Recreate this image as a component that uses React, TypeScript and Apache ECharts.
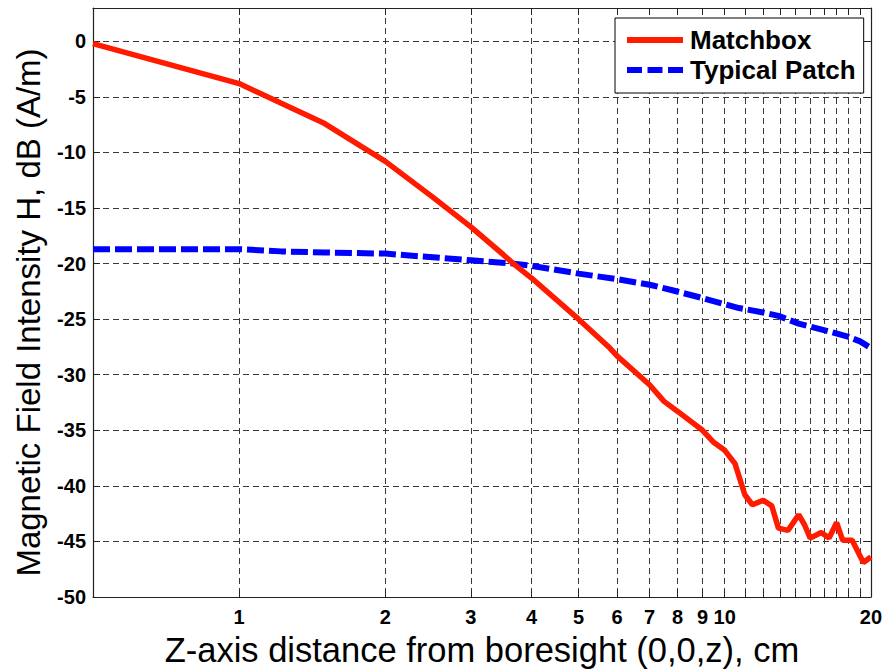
import React, { useEffect, useRef } from "react";
import * as echarts from "echarts";

// Distance along the Z axis (cm) and field intensity (dB A/m)
const matchboxX = [0.5, 1, 1.5, 2, 2.5, 3, 3.5, 3.67, 4, 5, 5.8, 6, 7, 7.5, 8, 9, 9.5, 10, 10.5, 11, 11.4, 12, 12.5, 12.9, 13.5, 14.2, 14.6, 15, 15.8, 16.4, 17, 17.5, 18.3, 19.3, 20];
const matchboxY = [-0.2, -3.8, -7.4, -10.8, -14.0, -16.7, -19.2, -20.0, -21.3, -25.0, -27.6, -28.3, -30.9, -32.4, -33.3, -35.0, -36.1, -36.8, -38.0, -40.8, -41.7, -41.3, -41.8, -43.8, -44.0, -42.6, -43.5, -44.7, -44.2, -44.7, -43.3, -44.9, -44.9, -46.9, -46.4];

const patchX = [0.5, 1, 1.22, 1.5, 2, 3, 3.67, 4, 5, 6, 7, 7.8, 9, 9.9, 10.7, 12, 12.9, 14.2, 16.4, 18, 19, 20];
const patchY = [-18.7, -18.7, -18.9, -19.0, -19.1, -19.7, -20.0, -20.2, -20.9, -21.4, -21.9, -22.4, -23.1, -23.6, -24.0, -24.4, -24.7, -25.4, -26.1, -26.6, -27.0, -27.6];

const xMin = 0.5;
const xMax = 20;
const xLabelValues = [1, 2, 3, 4, 5, 6, 7, 8, 9, 10, 20];
const xGridValues = [1, 2, 3, 4, 5, 6, 7, 8, 9, 10, 11, 12, 13, 14, 15, 16, 17, 18, 19, 20];
const yMin = -50;
const yMax = 3;
const yStep = 5;

const seriesNames = ["Matchbox", "Typical Patch"];
const xTitle = "Z-axis distance from boresight (0,0,z), cm";
const yTitle = "Magnetic Field Intensity H, dB (A/m)";

const FONT = "Liberation Sans, Arial, sans-serif";
const RED = "#ff1a00";
const BLUE = "#0000ff";

export default function App() {
  const ref = useRef<HTMLDivElement>(null);
  useEffect(() => {
    if (!ref.current) return;
    const chart = echarts.init(ref.current, null, { renderer: "svg" });
    const lg = (v: number) => Math.log10(v);
    const gridLine = { show: true, lineStyle: { color: "#3a3a3a", width: 1, type: [6, 4] as number[] } };
    const axisLine = { show: true, onZero: false, lineStyle: { color: "#222", width: 1.2 } };
    const xBase = { type: "value" as const, min: lg(xMin), max: lg(xMax), axisLine };
    const yBase = { type: "value" as const, min: yMin, max: yMax, interval: yStep, axisLine };
    const xTicks = { show: true, inside: true, length: 7, customValues: xGridValues.map(lg), lineStyle: { color: "#222" } };
    const yTicks = { show: true, inside: true, length: 7, lineStyle: { color: "#222" } };
    chart.setOption({
      animation: false,
      backgroundColor: "#fff",
      grid: { left: 93, right: 12, top: 8, bottom: 72, containLabel: false },
      legend: {
        orient: "vertical",
        left: 615,
        top: 18,
        padding: [9, 8, 10, 12],
        itemGap: 4,
        itemWidth: 56,
        itemHeight: 6,
        backgroundColor: "#fff",
        borderColor: "#000",
        borderWidth: 1,
        itemStyle: { borderWidth: 0 },
        textStyle: { fontFamily: FONT, fontSize: 26, fontWeight: "bold", color: "#000", padding: [0, 0, 0, 2] },
        data: [
          { name: seriesNames[0], icon: "path://M0,0h56v6h-56z" },
          { name: seriesNames[1], icon: "path://M0,0h15v6h-15zM20.5,0h15v6h-15zM41,0h15v6h-15z" },
        ],
      },
      xAxis: [
        {
          ...xBase,
          position: "bottom",
          name: xTitle,
          nameLocation: "middle",
          nameGap: 35,
          nameTextStyle: { fontFamily: FONT, fontSize: 34.5, color: "#000" },
          axisTick: xTicks,
          axisLabel: {
            customValues: xLabelValues.map(lg),
            formatter: (v: number) => String(Math.round(Math.pow(10, v))),
            fontFamily: FONT,
            fontSize: 20,
            fontWeight: "bold",
            color: "#000",
            margin: 10,
          },
          splitLine: gridLine,
        },
        {
          ...xBase,
          position: "top",
          axisTick: xTicks,
          axisLabel: { show: false },
          splitLine: { show: false },
        },
      ],
      yAxis: [
        {
          ...yBase,
          position: "left",
          name: yTitle,
          nameLocation: "middle",
          nameGap: 48,
          nameTextStyle: { fontFamily: FONT, fontSize: 33, color: "#000", padding: [0, 20, 0, 0] },
          axisTick: yTicks,
          axisLabel: {
            showMaxLabel: false,
            fontFamily: FONT,
            fontSize: 20,
            fontWeight: "bold",
            color: "#000",
            margin: 7,
          },
          splitLine: gridLine,
        },
        {
          ...yBase,
          position: "right",
          axisTick: yTicks,
          axisLabel: { show: false },
          splitLine: { show: false },
        },
      ],
      series: [
        {
          name: seriesNames[0],
          type: "line",
          xAxisIndex: 0,
          yAxisIndex: 0,
          symbol: "none",
          color: RED,
          lineStyle: { color: RED, width: 5.5 },
          data: matchboxX.map((x, i) => [lg(x), matchboxY[i]]),
          z: 3,
        },
        {
          name: seriesNames[1],
          type: "line",
          xAxisIndex: 0,
          yAxisIndex: 0,
          symbol: "none",
          color: BLUE,
          lineStyle: { color: BLUE, width: 6, type: [17, 5] },
          data: patchX.map((x, i) => [lg(x), patchY[i]]),
          z: 2,
        },
      ],
    });
    return () => chart.dispose();
  }, []);
  return <div ref={ref} style={{ position: "fixed", left: 0, top: 0, width: 885, height: 672 }} />;
}
